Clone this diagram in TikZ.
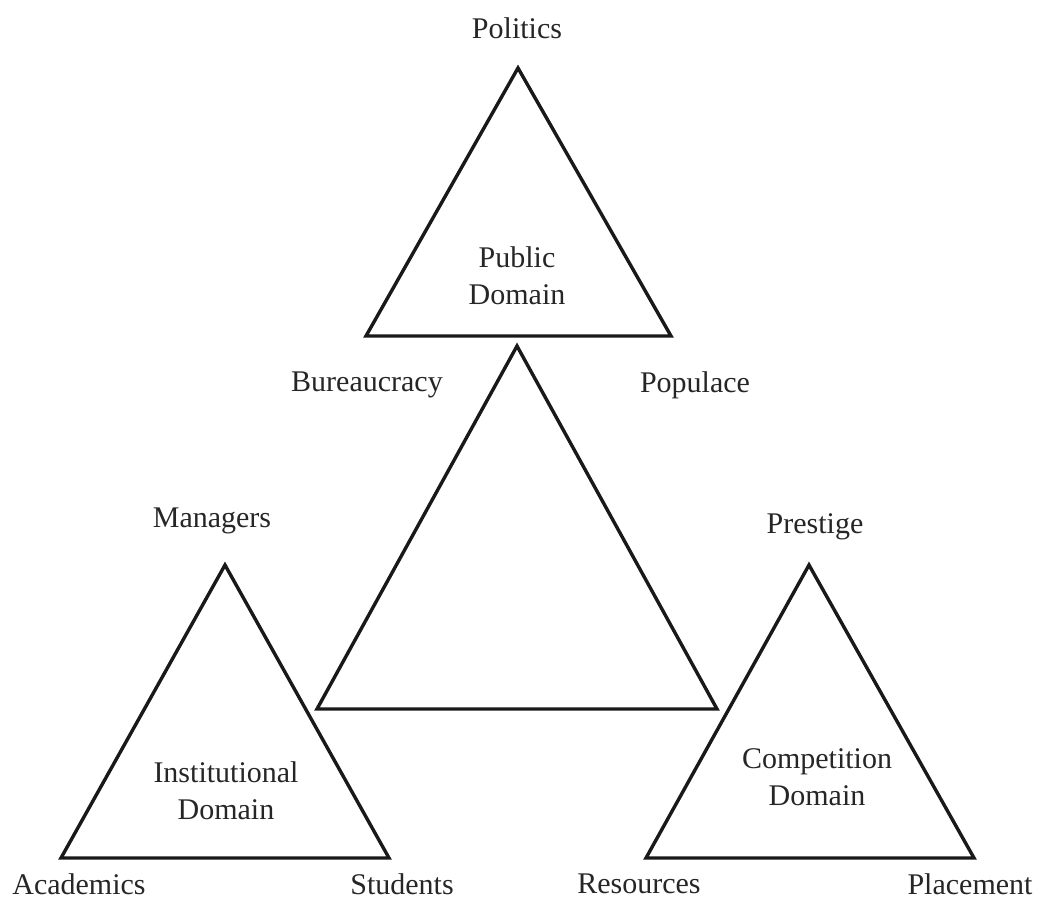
\documentclass[tikz,border=0pt]{standalone}
\usepackage{fontspec}
\setmainfont{Liberation Serif}
\usepackage{tikz}
\usetikzlibrary{positioning}

\begin{document}
\begin{tikzpicture}[
    x=0.5pt, y=-0.5pt,
    label/.style={inner sep=0pt, font=\fontsize{15}{18.5}\selectfont, text=black!85, align=center},
    tri/.style={draw=black!90, line width=1.7pt, line join=miter}
]
\useasboundingbox (0,0) rectangle (1039,900);

% vertices of the four triangles
\coordinate (PA) at (518,68);  \coordinate (PL) at (366,336); \coordinate (PR) at (671,336);
\coordinate (CA) at (517,346); \coordinate (CL) at (317,709); \coordinate (CR) at (717,709);
\coordinate (IA) at (225,565); \coordinate (IL) at (61,858);  \coordinate (IR) at (389,858);
\coordinate (KA) at (809,565); \coordinate (KL) at (646,858); \coordinate (KR) at (974,858);

\draw[tri] (PA) -- (PL) -- (PR) -- cycle;
\draw[tri] (CA) -- (CL) -- (CR) -- cycle;
\draw[tri] (IA) -- (IL) -- (IR) -- cycle;
\draw[tri] (KA) -- (KL) -- (KR) -- cycle;

% domain names
\node[label] (public) at (517,276) {Public\\Domain};
\node[label] (inst) at (226,791) {Institutional\\Domain};
\node[label] (comp) at (817,777) {Competition\\Domain};

% corner labels
\node[label] (politics) at (517,28) {Politics};
\node[label] (bureau) at (367,385) {Bureaucracy};
\node[label] (populace) at (695,385) {Populace};
\node[label] (managers) at (212,521) {Managers};
\node[label] (prestige) at (815,527) {Prestige};
\node[label] (academics) at (79,884) {Academics};
\node[label] (students) at (402,884) {Students};
\node[label] (resources) at (639,884) {Resources};
\node[label] (placement) at (970,884) {Placement};
\end{tikzpicture}
\end{document}
